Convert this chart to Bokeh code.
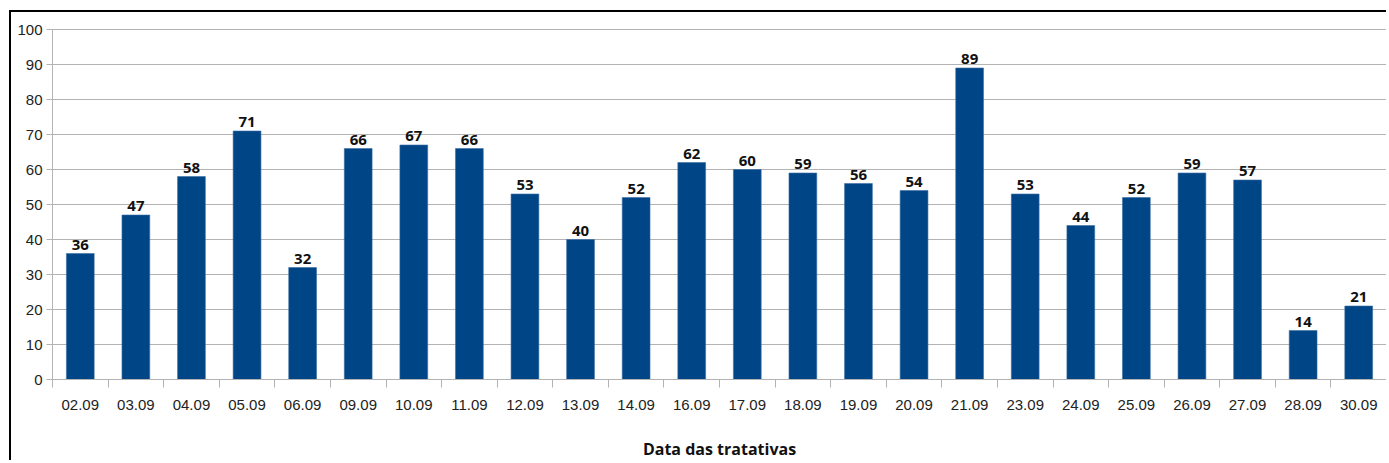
from bokeh.plotting import figure
from bokeh.models import FixedTicker, Range1d, ColumnDataSource
from bokeh.embed import file_html
from bokeh.resources import INLINE
from bokeh.core.properties import value

categories = ["02.09", "03.09", "04.09", "05.09", "06.09", "09.09", "10.09", "11.09",
              "12.09", "13.09", "14.09", "16.09", "17.09", "18.09", "19.09", "20.09",
              "21.09", "23.09", "24.09", "25.09", "26.09", "27.09", "28.09", "30.09"]
counts = [36, 47, 58, 71, 32, 66, 67, 66, 53, 40, 52, 62, 60, 59, 56, 54, 89, 53,
          44, 52, 59, 57, 14, 21]
y_ticks = list(range(0, 101, 10))
x_title = "Data das tratativas"

BAR = "#004586"
GRID = "#b3b3b3"

n = len(categories)
xs = [i + 0.5 for i in range(n)]
src = ColumnDataSource(dict(x=xs, top=counts, label=[str(v) for v in counts]))

p = figure(width=1377, height=450, output_backend="svg", toolbar_location=None,
           x_range=Range1d(0, n), y_range=Range1d(0, 100))
p.styles = {"border-top": "2px solid black", "border-left": "2px solid black",
            "margin-left": "9px", "margin-top": "10px"}
p.min_border_left = 41
p.min_border_right = 2
p.min_border_top = 17
p.min_border_bottom = 79
p.outline_line_color = GRID
p.outline_line_width = 1

p.vbar(x="x", top="top", width=0.5, bottom=0, source=src,
       fill_color=BAR, line_color="#3a6ea5", line_width=0.6)
p.text(x="x", y="top", text="label", source=src, text_align="center",
       text_baseline="alphabetic", y_offset=-9,
       text_font=value("Open Sans"), text_font_style="bold",
       text_font_size="15px", text_color="#111111")

# x axis
xa = p.xaxis[0]
xa.ticker = FixedTicker(ticks=xs, minor_ticks=list(range(n + 1)))
xa.major_label_overrides = {x: c for x, c in zip(xs, categories)}
xa.major_tick_out = 0
xa.major_tick_in = 0
xa.minor_tick_out = 8
xa.minor_tick_in = 0
xa.minor_tick_line_color = GRID
xa.axis_line_color = GRID
xa.major_label_text_font = "Liberation Sans"
xa.major_label_text_font_size = "15px"
xa.major_label_text_color = "#222222"
xa.major_label_standoff = 12
xa.axis_label = x_title
xa.axis_label_text_font = "Open Sans"
xa.axis_label_text_font_style = "bold"
xa.axis_label_text_font_size = "16px"
xa.axis_label_text_color = "#111111"
xa.axis_label_standoff = 25

# y axis
ya = p.yaxis[0]
ya.ticker = FixedTicker(ticks=y_ticks)
ya.major_tick_out = 6
ya.major_tick_in = 0
ya.minor_tick_out = 0
ya.minor_tick_in = 0
ya.major_tick_line_color = GRID
ya.axis_line_color = GRID
ya.major_label_text_font = "Liberation Sans"
ya.major_label_text_font_size = "15px"
ya.major_label_text_color = "#222222"
ya.major_label_standoff = 4

p.xgrid.grid_line_color = None
p.ygrid.ticker = FixedTicker(ticks=y_ticks)
p.ygrid.grid_line_color = GRID
p.ygrid.grid_line_width = 1

open("out.html", "w").write(file_html(p, INLINE))
